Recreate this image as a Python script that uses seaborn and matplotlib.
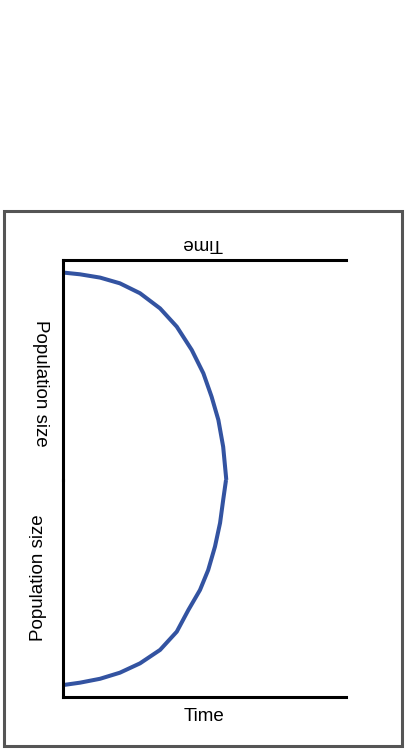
import matplotlib
matplotlib.use('Agg')
import matplotlib.pyplot as plt
import numpy as np
import pandas as pd
import seaborn as sns
from matplotlib.patches import Rectangle

# values (time 0-10, population 0-10 in each panel)
time_lower = [0.0, 0.60, 1.31, 2.01, 2.72, 3.43, 4.02, 4.43, 4.84, 5.13, 5.37, 5.55, 5.66, 5.76]
pop_lower = [0.55, 0.66, 0.84, 1.12, 1.55, 2.17, 3.01, 4.01, 4.93, 5.85, 6.93, 8.02, 9.08, 10.0]

time_upper = [0.0, 0.60, 1.31, 2.01, 2.72, 3.43, 4.02, 4.55, 4.96, 5.25, 5.49, 5.66, 5.76, 5.77]
pop_upper = [0.57, 0.65, 0.80, 1.06, 1.51, 2.20, 3.03, 4.09, 5.15, 6.21, 7.27, 8.49, 9.85, 10.0]

x_label = 'Time'
y_label = 'Population size'
curve_color = '#3353A1'

sns.set_style('white')
plt.rcParams['font.family'] = ['Liberation Sans', 'DejaVu Sans']
plt.rcParams['text.color'] = 'black'
plt.rcParams['axes.labelcolor'] = 'black'

fig = plt.figure(figsize=(4.05, 7.51), dpi=100)

# grey frame round the whole figure part
fig.patches.append(Rectangle((4 / 405, 5 / 751), 398 / 405, 535 / 751,
                             transform=fig.transFigure, fill=False,
                             edgecolor='#555555', linewidth=2.2))

ax_low = fig.add_axes([63 / 405, 54 / 751, 283 / 405, 217 / 751])
ax_up = fig.add_axes([63 / 405, 271 / 751, 283 / 405, 220 / 751])

df_low = pd.DataFrame({'time': time_lower, 'pop': pop_lower})
df_up = pd.DataFrame({'time': time_upper, 'pop': pop_upper})

sns.lineplot(data=df_low, x='time', y='pop', ax=ax_low, color=curve_color,
             linewidth=2.9, estimator=None, sort=False,
             solid_joinstyle='round', solid_capstyle='butt')
sns.lineplot(data=df_up, x='time', y='pop', ax=ax_up, color=curve_color,
             linewidth=2.9, estimator=None, sort=False,
             solid_joinstyle='round', solid_capstyle='butt')

for ax in (ax_low, ax_up):
    ax.set_xlim(0, 10)
    ax.set_xticks([])
    ax.set_yticks([])
    ax.patch.set_alpha(0)
    for side in ax.spines.values():
        side.set_color('black')
        side.set_linewidth(2.2)
    ax.spines['right'].set_visible(False)

ax_low.set_ylim(0, 10)
ax_low.spines['top'].set_visible(False)
ax_low.set_xlabel(x_label, fontsize=13.5, va='center')
ax_low.set_ylabel(y_label, fontsize=13.5, va='center')
ax_low.xaxis.set_label_coords(0.497, -0.088)
ax_low.yaxis.set_label_coords(-0.085, 0.548)

# upper panel is the same chart turned over
ax_up.set_ylim(10, 0)
ax_up.spines['bottom'].set_visible(False)
ax_up.xaxis.set_label_position('top')
ax_up.set_xlabel(x_label, fontsize=13.5, rotation=180, va='center')
ax_up.set_ylabel(y_label, fontsize=13.5, rotation=270, va='center')
ax_up.xaxis.set_label_coords(0.493, 1.077)
ax_up.yaxis.set_label_coords(-0.078, 0.441)

fig.savefig('out.png', dpi=100)
